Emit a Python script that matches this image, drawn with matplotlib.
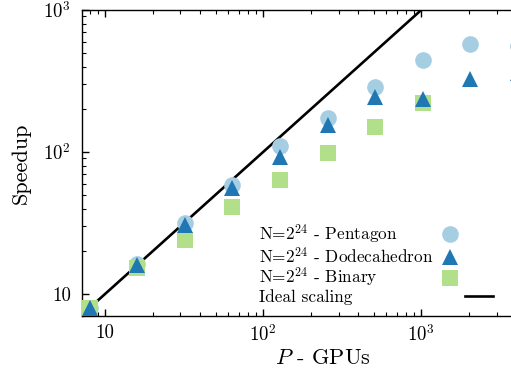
import matplotlib
matplotlib.use('Agg')
import matplotlib.pyplot as plt

# GPU counts and measured speedups
gpus = [8, 16, 32, 64, 128, 256, 512, 1024, 2048, 4096]
pentagon = [8.0, 16.2, 31.5, 59, 110, 174, 287, 445, 575, 560]
dodecahedron = [8.0, 16.0, 30.5, 56, 92, 155, 244, 236, 327, 360]
gpus_binary = [8, 16, 32, 64, 128, 256, 512, 1024]
binary = [8.0, 15.3, 24, 41, 63, 99, 150, 221]
ideal = [8, 16, 32, 64, 128, 256, 512, 1024, 2048, 4096]

labels = ['N=$2^{24}$ - Pentagon', 'N=$2^{24}$ - Dodecahedron',
          'N=$2^{24}$ - Binary', 'Ideal scaling']

plt.rcParams['font.family'] = 'serif'
plt.rcParams['font.serif'] = ['cmr10', 'DejaVu Serif']
plt.rcParams['mathtext.fontset'] = 'cm'
plt.rcParams['axes.formatter.use_mathtext'] = True

fig = plt.figure(figsize=(5.11, 3.74), dpi=100)
ax = fig.add_axes([82 / 511, 58 / 374, 482 / 511, 306 / 374])

line, = ax.plot(ideal, ideal, color='black', lw=1.9, zorder=1)
p1, = ax.plot(gpus, pentagon, 'o', ms=12, mew=0, color='#a6cee3', zorder=2)
p3, = ax.plot(gpus_binary, binary, 's', ms=11.5, mew=0, color='#b2df8a', zorder=3)
p2, = ax.plot(gpus, dodecahedron, '^', ms=12, mew=0, color='#1f78b4', zorder=4)

ax.set_xscale('log')
ax.set_yscale('log')
ax.set_xlim(7.15, 8000)
ax.set_ylim(7.0, 1000)

ax.set_xticks([10, 100, 1000])
ax.set_xticklabels(['10', '$10^2$', '$10^3$'])
ax.set_yticks([10, 100, 1000])
ax.set_yticklabels(['10', '$10^2$', '$10^3$'])
ax.tick_params(which='both', direction='in', top=True, right=True, labelsize=13.5)
ax.tick_params(axis='y', pad=8)
ax.tick_params(axis='x', pad=6)
ax.tick_params(which='major', length=5, width=1)
ax.tick_params(which='minor', length=3, width=0.8)
for s in ax.spines.values():
    s.set_linewidth(1.0)

ax.set_xlabel('$P$ - GPUs', fontsize=16, labelpad=2)
ax.set_ylabel('Speedup', fontsize=16, labelpad=9)

leg = ax.legend([p1, p2, p3, line], labels,
                markerfirst=False, frameon=False, fontsize=12.4, numpoints=1,
                handlelength=1.6, handletextpad=0.15, labelspacing=0.0,
                loc='lower left', bbox_to_anchor=(259 / 511, 69 / 374),
                bbox_transform=fig.transFigure, borderpad=0, borderaxespad=0)

# left-align the label texts (markerfirst=False right-aligns them)
fig.canvas.draw()
renderer = fig.canvas.get_renderer()
column = leg._legend_handle_box.get_children()[0]
rows = column.get_children()
widths = [r.get_children()[0].get_bbox(renderer).width for r in rows]
to_pt = 72.0 / fig.dpi
for r, w in zip(rows, widths):
    r.sep = r.sep + (max(widths) - w) * to_pt

# the ideal-scaling sample sits to the right of the marker column
ideal_handle = leg.get_lines()[3]
ideal_handle.set_xdata([x + 21 for x in ideal_handle.get_xdata()])

fig.savefig('out.png', dpi=100)
